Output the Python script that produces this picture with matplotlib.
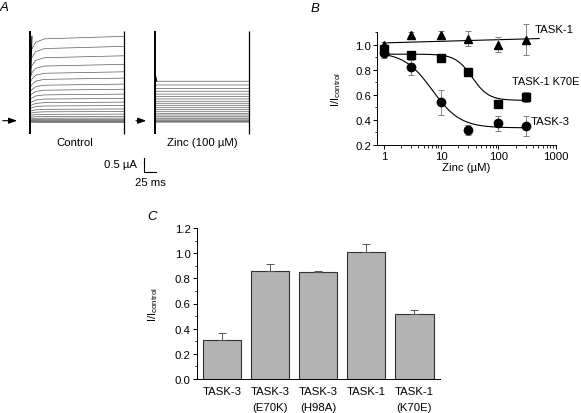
import numpy as np
import matplotlib
matplotlib.use("Agg")
import matplotlib.pyplot as plt
from matplotlib.ticker import MultipleLocator, FixedLocator, NullFormatter, FormatStrFormatter

plt.rcParams["font.family"] = ["Liberation Sans", "DejaVu Sans"]
FS = 8.2

# ---- panel A: current families (uA) ----
ctrl_amp = [2.95, 2.60, 2.27, 1.97, 1.71, 1.49, 1.28, 1.10, 0.93, 0.78, 0.65,
            0.53, 0.41, 0.32, 0.23, 0.15, 0.09, 0.04, 0.01, -0.02, -0.04, -0.06]
zinc_amp = [1.38, 1.25, 1.13, 1.03, 0.93, 0.84, 0.76, 0.68, 0.61, 0.54, 0.47,
            0.40, 0.33, 0.26, 0.20, 0.14, 0.09, 0.06, 0.02, -0.01, -0.03, -0.05]
t_shape = [0, 4, 12, 30, 196]          # ms
ctrl_shape = [0.78, 0.85, 0.93, 0.97, 1.0]
zinc_shape = [0.96, 1.0, 1.0, 1.0, 1.0]
spike = (-0.45, 3.15)
zinc_offset = 260                        # ms

# ---- panel B: dose response ----
zinc_conc = [1, 3, 10, 30, 100, 300]
task1_y = [1.00, 1.075, 1.08, 1.05, 1.00, 1.04]
task1_err = [0.02, 0.03, 0.03, 0.06, 0.06, 0.125]
k70e_y = [0.97, 0.915, 0.893, 0.78, 0.525, 0.585]
k70e_err = [0.02, 0.02, 0.02, 0.02, 0.03, 0.04]
task3_y = [0.935, 0.821, 0.541, 0.315, 0.373, 0.347]
task3_err = [0.04, 0.06, 0.10, 0.04, 0.06, 0.08]
# fit parameters: top, bottom, IC50, Hill, x-end
k70e_fit = (0.925, 0.555, 34.7, 3.0, 330)
task3_fit = (0.94, 0.335, 7.0, 1.78, 300)
task1_fit_x = [1, 515]
task1_fit_y = [1.015, 1.05]

# ---- panel C: bars ----
bar_labels = ["TASK-3", "TASK-3\n(E70K)", "TASK-3\n(H98A)", "TASK-1", "TASK-1\n(K70E)"]
bar_vals = [0.307, 0.858, 0.848, 1.007, 0.519]
bar_errs = [0.055, 0.055, 0.008, 0.065, 0.03]

W, H = 581, 414
fig = plt.figure(figsize=(W / 100, H / 100), dpi=100)


def px_axes(x0, y0, x1, y1):
    return fig.add_axes([x0 / W, 1 - y1 / H, (x1 - x0) / W, (y1 - y0) / H])


# ---------------- A ----------------
axA = px_axes(0, 20, 290, 200)
axA.set_xlim(-62.5, 541.7)
axA.set_ylim(-2.738, 3.556)
axA.axis("off")
trace_col = "#5a5a5a"
for amps, shape, off in [(ctrl_amp, ctrl_shape, 0), (zinc_amp, zinc_shape, zinc_offset)]:
    for a in amps:
        axA.plot(np.array(t_shape) + off, np.array(shape) * a, color=trace_col, lw=0.5)
    axA.vlines([off, off + t_shape[-1]], spike[0], spike[1], color="black",
               lw=[1.4, 0.9])
    axA.plot([off + 1.5, off + 4], [spike[1] * 0.5, amps[0]], color="black", lw=0.8)

arrow_kw = dict(arrowstyle="-|>,head_length=0.5,head_width=0.18", color="black", lw=0.8)
axA.annotate("", xy=(-21, 0), xytext=(-62.5, 0), arrowprops=arrow_kw)
axA.annotate("", xy=(248, 0), xytext=(215, 0), arrowprops=arrow_kw)
axA.text(93.75, -0.76, "Control", ha="center", va="center", fontsize=FS)
axA.text(359.8, -0.76, "Zinc (100 \u00b5M)", ha="center", va="center", fontsize=FS)
axA.plot([237.5, 237.5, 262.5], [-1.30, -1.80, -1.80], color="black", lw=0.8)
axA.text(222, -1.51, "0.5 \u00b5A", ha="right", va="center", fontsize=FS)
axA.text(250, -2.13, "25 ms", ha="center", va="center", fontsize=FS)

# ---------------- B ----------------
axB = px_axes(377.3, 33.3, 555.7, 145.7)
axB.set_xscale("log")
axB.set_xlim(0.77, 1000)
axB.set_ylim(0.2, 1.1)
for s in ["top", "right"]:
    axB.spines[s].set_visible(False)
for s in ["left", "bottom"]:
    axB.spines[s].set_linewidth(0.7)
axB.xaxis.set_major_locator(FixedLocator([1, 10, 100, 1000]))
axB.set_xticklabels(["1", "10", "100", "1000"])
minors = [m * 10 ** e for e in range(0, 3) for m in range(2, 10)]
axB.xaxis.set_minor_locator(FixedLocator(minors))
axB.xaxis.set_minor_formatter(NullFormatter())
axB.yaxis.set_major_locator(FixedLocator([0.2, 0.4, 0.6, 0.8, 1.0]))
axB.yaxis.set_minor_locator(MultipleLocator(0.1))
axB.set_yticklabels(["0.2", "0.4", "0.6", "0.8", "1.0"])
axB.tick_params(which="major", direction="out", length=3, width=0.7, pad=1.5, labelsize=FS)
axB.tick_params(which="minor", direction="out", length=1.8, width=0.6)

err_kw = dict(ecolor="#808080", elinewidth=0.7, capsize=2.2, capthick=0.7, ls="none")
for y, e, m in [(task1_y, task1_err, "^"), (k70e_y, k70e_err, "s"), (task3_y, task3_err, "o")]:
    axB.errorbar(zinc_conc, y, yerr=e, fmt=m, color="black", ms=6, mec="black", **err_kw,
                 clip_on=False, zorder=3)

axB.plot(task1_fit_x, task1_fit_y, color="black", lw=0.8)
for top, bot, ic, n, xend in [k70e_fit, task3_fit]:
    xs = np.logspace(0, np.log10(xend), 200)
    axB.plot(xs, bot + (top - bot) / (1 + (xs / ic) ** n), color="black", lw=0.8)

axB.set_xlabel("Zinc (\u00b5M)", fontsize=FS, labelpad=1)
axB.set_ylabel(r"I/I$_{\mathregular{control}}$", fontsize=FS)
axB.yaxis.set_label_coords(-0.19, 0.5)
fig.text(535 / W, 1 - 30 / H, "TASK-1", fontsize=FS, va="center", ha="left")
fig.text(579 / W, 1 - 82 / H, "TASK-1 K70E", fontsize=7.9, va="center", ha="right")
fig.text(531 / W, 1 - 122 / H, "TASK-3", fontsize=FS, va="center", ha="left")

# ---------------- C ----------------
axC = px_axes(197, 229, 440, 380)
idx = np.arange(len(bar_vals))
axC.bar(idx, bar_vals, width=0.81, color="#b3b3b3", edgecolor="#333333", lw=0.8,
        yerr=[np.zeros(len(bar_errs)), bar_errs],
        error_kw=dict(ecolor="#555555", elinewidth=0.7, capsize=3, capthick=0.7))
axC.set_xlim(-0.52, 4.54)
axC.set_ylim(0, 1.2)
for s in ["top", "right"]:
    axC.spines[s].set_visible(False)
for s in ["left", "bottom"]:
    axC.spines[s].set_linewidth(0.7)
axC.set_xticks(idx)
axC.set_xticklabels(bar_labels, linespacing=1.7, va="top")
axC.tick_params(axis="x", length=0, pad=5, labelsize=FS)
axC.yaxis.set_major_locator(MultipleLocator(0.2))
axC.yaxis.set_minor_locator(MultipleLocator(0.1))
axC.yaxis.set_major_formatter(FormatStrFormatter("%.1f"))
axC.tick_params(axis="y", which="major", direction="out", length=3, width=0.7, pad=1.5,
                labelsize=FS)
axC.tick_params(axis="y", which="minor", direction="out", length=1.8, width=0.6)
axC.set_ylabel(r"I/I$_{\mathregular{control}}$", fontsize=FS)
axC.yaxis.set_label_coords(-0.152, 0.5)

# panel letters
for lab, x, y in [("A", 0, 2), ("B", 311, 3), ("C", 147, 211)]:
    fig.text(x / W, 1 - y / H, lab, style="italic", fontsize=9.5, va="top", ha="left")

fig.savefig("out.png", dpi=100)
